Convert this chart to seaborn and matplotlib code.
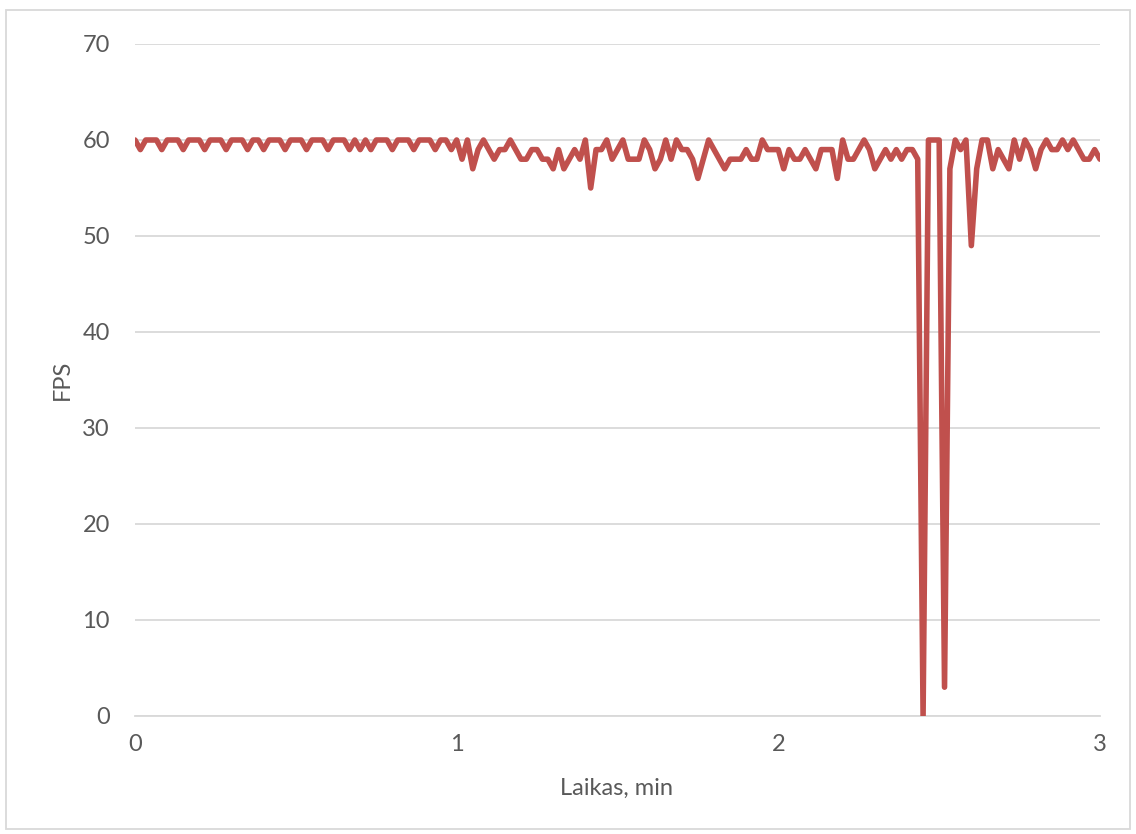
import numpy as np
import pandas as pd
import matplotlib
matplotlib.use("Agg")
import matplotlib.pyplot as plt
import seaborn as sns
from matplotlib.patches import Rectangle

# ---- data (one sample per second, x in minutes) ----
fps_part1 = [60, 59, 60, 60, 60, 59, 60, 60, 60, 59, 60, 60, 60, 59, 60, 60, 60, 59, 60, 60,
             60, 59, 60, 60, 59, 60, 60, 60, 59, 60, 60, 60, 59, 60, 60, 60, 59, 60, 60, 60,
             59, 60, 59, 60, 59, 60, 60, 60, 59, 60, 60, 60, 59, 60, 60, 60, 59, 60, 60, 59]
fps_part2 = [60, 58, 60, 57, 59, 60, 59, 58, 59, 59, 60, 59, 58, 58, 59, 59, 58, 58, 57, 59,
             57, 58, 59, 58, 60, 55, 59, 59, 60, 58, 59, 60, 58, 58, 58, 60, 59, 57, 58, 60,
             58, 60]
fps_part3 = [59, 59, 58, 56, 58, 60, 59, 58, 57, 58, 58, 58, 59, 58, 58, 60, 59, 59, 59, 57,
             59, 58, 58, 59, 58, 57, 59, 59, 59, 56, 60, 58, 58, 59, 60, 59, 57, 58, 59, 58,
             59, 58, 59, 59, 58]
fps_part4 = [0, 60, 60, 60, 3, 57, 60, 59, 60, 49, 57, 60, 60, 57, 59, 58, 57, 60, 58, 60,
             59, 57, 59, 60, 59, 59, 60, 59, 60, 59, 58, 58, 59, 58]
fps = fps_part1 + fps_part2 + fps_part3 + fps_part4
seconds = np.arange(len(fps))
time_min = seconds / 60.0

y_ticks = [0, 10, 20, 30, 40, 50, 60, 70]
x_ticks = [0, 1, 2, 3]
x_label = "Laikas, min"
y_label = "FPS"

df = pd.DataFrame({"t": time_min, "fps": fps})

sns.set_style("white")
plt.rcParams["font.family"] = ["Lato", "DejaVu Sans"]

W, H = 1136, 834
fig = plt.figure(figsize=(W / 100, H / 100), dpi=100)
ax = fig.add_axes([135 / W, 1 - 716 / H, 965 / W, 672 / H])

sns.lineplot(data=df, x="t", y="fps", ax=ax, color="#C0504D", linewidth=4.0,
             solid_joinstyle="round", solid_capstyle="round", zorder=3)

ax.set_xlim(0, 3)
ax.set_ylim(0, 70)
ax.set_xticks(x_ticks)
ax.set_yticks(y_ticks)
ax.set_xticklabels([str(v) for v in x_ticks])
ax.set_yticklabels([str(v) for v in y_ticks])
ax.yaxis.grid(True, color="#D9D9D9", linewidth=1.3)
ax.xaxis.grid(False)
ax.set_axisbelow(True)
for s in ["top", "right", "left"]:
    ax.spines[s].set_visible(False)
ax.spines["bottom"].set_color("#D9D9D9")
ax.spines["bottom"].set_linewidth(1.3)
ax.tick_params(axis="both", length=0, labelsize=17, labelcolor="#595959")
ax.tick_params(axis="y", pad=18)
ax.tick_params(axis="x", pad=13)
ax.patch.set_alpha(0)

ax.set_xlabel(x_label, fontsize=17, color="#595959")
ax.set_ylabel(y_label, fontsize=17, color="#595959")
ax.xaxis.set_label_coords((617 - 135) / 965, -(788 - 716) / 672)
ax.xaxis.label.set_verticalalignment("center")
ax.yaxis.set_label_coords(-(135 - 62) / 965, 0.5)
ax.yaxis.label.set_verticalalignment("center")

fig.patches.append(Rectangle((6 / W, 1 - 829 / H), (1130 - 6) / W, (829 - 10) / H,
                             transform=fig.transFigure, fill=False,
                             edgecolor="#D9D9D9", linewidth=1.3))

fig.savefig("out.png", dpi=100)
